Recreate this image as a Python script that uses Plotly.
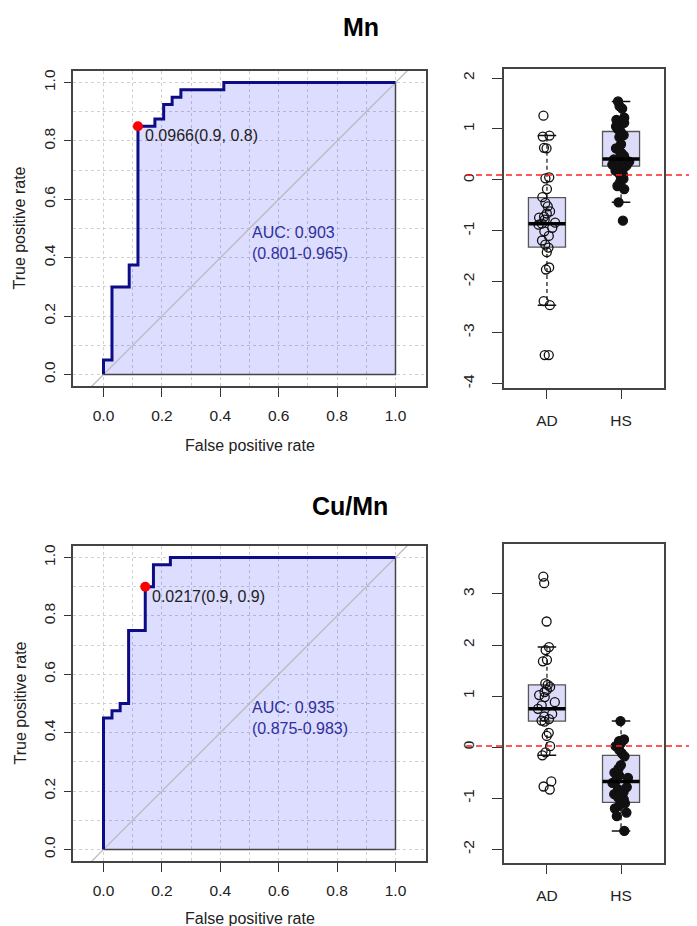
import plotly.graph_objects as go

W, H = 697, 926

# ---------------- data ----------------
titles = ["Mn", "Cu/Mn"]

# ROC curves (false positive rate, true positive rate) corner points
mn_fpr = [0.0, 0.0, 0.029, 0.029, 0.088, 0.088, 0.118, 0.118, 0.176, 0.176, 0.206, 0.206,
          0.235, 0.235, 0.265, 0.265, 0.412, 0.412, 1.0]
mn_tpr = [0.0, 0.05, 0.05, 0.30, 0.30, 0.375, 0.375, 0.85, 0.85, 0.875, 0.875, 0.925,
          0.925, 0.95, 0.95, 0.975, 0.975, 1.0, 1.0]
cu_fpr = [0.0, 0.0, 0.029, 0.029, 0.057, 0.057, 0.086, 0.086, 0.143, 0.143, 0.171, 0.171,
          0.229, 0.229, 1.0]
cu_tpr = [0.0, 0.45, 0.45, 0.475, 0.475, 0.50, 0.50, 0.75, 0.75, 0.90, 0.90, 0.975,
          0.975, 1.0, 1.0]

# best threshold points
mn_thr = {"fpr": 0.118, "tpr": 0.85, "label": "0.0966(0.9, 0.8)", "cut": 0.0966}
cu_thr = {"fpr": 0.143, "tpr": 0.90, "label": "0.0217(0.9, 0.9)", "cut": 0.0217}
mn_auc = ["AUC: 0.903", "(0.801-0.965)"]
cu_auc = ["AUC: 0.935", "(0.875-0.983)"]

groups = ["AD", "HS"]

# individual values
mn_ad = [1.26, 0.87, 0.85, 0.63, 0.62, 0.05, 0.03, -0.18, -0.34, -0.45, -0.52, -0.62, -0.66,
         -0.72, -0.74, -0.78, -0.84, -0.86, -0.88, -0.94, -1.01, -1.10, -1.19, -1.27, -1.33,
         -1.42, -1.72, -1.76, -2.38, -2.46, -3.44, -3.44]
mn_hs = [1.54, 1.45, 1.40, 1.22, 1.18, 1.12, 1.05, 1.00, 0.95, 0.88, 0.84, 0.70, 0.62, 0.58,
         0.52, 0.47, 0.44, 0.41, 0.40, 0.38, 0.36, 0.33, 0.30, 0.28, 0.25, 0.22, 0.18, 0.14,
         0.10, 0.06, 0.02, -0.05, -0.12, -0.18, -0.44, -0.80]
cu_ad = [3.34, 3.21, 2.46, 1.96, 1.90, 1.71, 1.68, 1.25, 1.22, 1.18, 1.12, 1.08, 1.02, 0.98,
         0.88, 0.82, 0.75, 0.65, 0.60, 0.55, 0.52, 0.50, 0.28, 0.22, 0.02, -0.10, -0.16,
         -0.67, -0.77, -0.83]
cu_hs = [0.51, 0.15, 0.12, 0.08, 0.02, -0.05, -0.12, -0.18, -0.35, -0.42, -0.50, -0.55,
         -0.60, -0.65, -0.70, -0.78, -0.82, -0.88, -0.92, -0.98, -1.02, -1.05, -1.10, -1.15,
         -1.20, -1.28, -1.35, -1.64]

# box statistics [AD, HS]
mn_q1 = [-1.32, 0.27]
mn_med = [-0.86, 0.41]
mn_q3 = [-0.35, 0.95]
mn_wlo = [-2.46, -0.44]
mn_whi = [0.87, 1.54]
cu_q1 = [0.51, -1.08]
cu_med = [0.75, -0.67]
cu_q3 = [1.22, -0.16]
cu_wlo = [-0.16, -1.64]
cu_whi = [1.96, 0.51]

roc_ticks = [0.0, 0.2, 0.4, 0.6, 0.8, 1.0]
mn_box_ticks = [-4, -3, -2, -1, 0, 1, 2]
cu_box_ticks = [-2, -1, 0, 1, 2, 3]

# ---------------- style ----------------
FONT = "Liberation Sans, Arial, sans-serif"
TXT = "#222222"
FILL = "rgba(0,0,255,0.135)"
BOXFILL = "#DCDCFA"
NAVY = "#0c0c86"
BOXW = 0.5


def px_x(p):
    return p / W


def px_y(p):
    return 1 - p / H


fig = go.Figure()

panels = [
    dict(fpr=mn_fpr, tpr=mn_tpr, thr=mn_thr, auc=mn_auc, ad=mn_ad, hs=mn_hs,
         q1=mn_q1, med=mn_med, q3=mn_q3, wlo=mn_wlo, whi=mn_whi, bticks=mn_box_ticks,
         roc_y=(61, 377), box_y=(59, 379), brange=[-4.09, 2.18], ax=("x", "y"), bx=("x2", "y2"),
         xtitle_off=59),
    dict(fpr=cu_fpr, tpr=cu_tpr, thr=cu_thr, auc=cu_auc, ad=cu_ad, hs=cu_hs,
         q1=cu_q1, med=cu_med, q3=cu_q3, wlo=cu_wlo, whi=cu_whi, bticks=cu_box_ticks,
         roc_y=(537, 853), box_y=(535, 855), brange=[-2.27, 3.98], ax=("x3", "y3"), bx=("x4", "y4"),
         xtitle_off=57),
]

annotations = []
shapes = []
roc_x = (65, 418)
box_x = (496, 656)

axis_common = dict(showline=True, mirror=True, linecolor="#444444", linewidth=1.5,
                   ticks="outside", tickwidth=1.2, tickcolor="#333333",
                   zeroline=False, tickfont=dict(family=FONT, size=15.5, color=TXT))

grid = dict(showgrid=True, gridcolor="#d0d0d0", griddash="dot", gridwidth=1,
            minor=dict(tickvals=[0.1, 0.3, 0.5, 0.7, 0.9], showgrid=True, gridcolor="#d0d0d0",
                       griddash="dot", ticks=""))

for i, p in enumerate(panels):
    xa, ya = p["ax"]
    bxa, bya = p["bx"]
    # AUC polygon
    fig.add_trace(go.Scatter(x=p["fpr"] + [1.0, 0.0], y=p["tpr"] + [0.0, 0.0],
                             fill="toself", fillcolor=FILL, mode="lines",
                             line=dict(color="#444444", width=1.5),
                             xaxis=xa, yaxis=ya, showlegend=False, hoverinfo="skip"))
    # diagonal reference
    fig.add_trace(go.Scatter(x=[-0.2, 1.2], y=[-0.2, 1.2], mode="lines",
                             line=dict(color="#bbbbbb", width=1.3),
                             xaxis=xa, yaxis=ya, showlegend=False, hoverinfo="skip"))
    # ROC curve
    fig.add_trace(go.Scatter(x=p["fpr"], y=p["tpr"], mode="lines",
                             line=dict(color=NAVY, width=3),
                             xaxis=xa, yaxis=ya, showlegend=False))
    # threshold point
    t = p["thr"]
    fig.add_trace(go.Scatter(x=[t["fpr"]], y=[t["tpr"]], mode="markers",
                             marker=dict(color="#ff0000", size=10),
                             xaxis=xa, yaxis=ya, showlegend=False))
    annotations.append(dict(x=t["fpr"] + 0.017, y=t["tpr"] - 0.033, xref=xa, yref=ya,
                            text=t["label"], showarrow=False, xanchor="left", yanchor="middle",
                            font=dict(family=FONT, size=16, color=TXT)))
    annotations.append(dict(x=0.5, y=0.45, xref=xa, yref=ya,
                            text=p["auc"][0] + "<br>" + p["auc"][1], showarrow=False,
                            xanchor="left", yanchor="middle", align="left",
                            font=dict(family=FONT, size=16, color="#30309a")))

    # ---- box plot ----
    for g, (name, vals) in enumerate(zip(groups, [p["ad"], p["hs"]])):
        pos = g + 1
        # dashed whiskers
        fig.add_trace(go.Scatter(x=[pos, pos, None, pos, pos],
                                 y=[p["q3"][g], p["whi"][g], None, p["q1"][g], p["wlo"][g]],
                                 mode="lines", line=dict(color="#111111", width=1.2, dash="4px,3px"),
                                 xaxis=bxa, yaxis=bya, showlegend=False, hoverinfo="skip"))
        # caps
        fig.add_trace(go.Scatter(x=[pos - BOXW / 4, pos + BOXW / 4, None, pos - BOXW / 4, pos + BOXW / 4],
                                 y=[p["whi"][g], p["whi"][g], None, p["wlo"][g], p["wlo"][g]],
                                 mode="lines", line=dict(color="#111111", width=1.5),
                                 xaxis=bxa, yaxis=bya, showlegend=False, hoverinfo="skip"))
        # box
        fig.add_trace(go.Box(x=[pos], q1=[p["q1"][g]], median=[p["med"][g]], q3=[p["q3"][g]],
                             lowerfence=[p["q1"][g]], upperfence=[p["q3"][g]], width=BOXW,
                             whiskerwidth=0, fillcolor=BOXFILL,
                             line=dict(color="#555555", width=1.3), orientation="v",
                             xaxis=bxa, yaxis=bya, showlegend=False, boxpoints=False))
        # median
        fig.add_trace(go.Scatter(x=[pos - BOXW / 2, pos + BOXW / 2], y=[p["med"][g], p["med"][g]],
                                 mode="lines", line=dict(color="#000000", width=3.5),
                                 xaxis=bxa, yaxis=bya, showlegend=False, hoverinfo="skip"))
        # points with jitter
        fig.add_trace(go.Box(x=[pos] * len(vals), y=vals, boxpoints="all", jitter=0.5, pointpos=0,
                             width=BOXW, fillcolor="rgba(0,0,0,0)", line=dict(width=0),
                             marker=dict(symbol="circle-open" if g == 0 else "circle",
                                         size=9, color="#111111",
                                         line=dict(width=1.3, color="#111111")),
                             xaxis=bxa, yaxis=bya, showlegend=False, orientation="v"))

    # cut-off line
    shapes.append(dict(type="line", xref="paper", x0=px_x(458), x1=1.0, yref=bya,
                       y0=t["cut"], y1=t["cut"], line=dict(color="#ff2020", width=1.5, dash="6px,4px")))

    # axes
    suffix = "" if i == 0 else "3"
    bsuffix = "2" if i == 0 else "4"
    fig.layout["xaxis" + suffix] = dict(
        domain=[px_x(roc_x[0]), px_x(roc_x[1])], range=[-0.1045, 1.1045], anchor=ya,
        tickvals=roc_ticks, ticktext=["%.1f" % v for v in roc_ticks],
        ticklen=9, ticklabelstandoff=5, **grid, **axis_common)
    fig.layout["yaxis" + suffix] = dict(
        domain=[px_y(p["roc_y"][1]), px_y(p["roc_y"][0])], range=[-0.04, 1.04], anchor=xa,
        tickvals=roc_ticks, ticktext=["%.1f" % v for v in roc_ticks], tickangle=-90,
        ticklen=7, ticklabelstandoff=3, **grid, **axis_common)
    fig.layout["xaxis" + bsuffix] = dict(
        domain=[px_x(box_x[0]), px_x(box_x[1])], range=[0.42, 2.58], anchor=bya,
        tickvals=[1, 2], ticktext=groups, showgrid=False, ticklen=9, ticklabelstandoff=8,
        **axis_common)
    fig.layout["yaxis" + bsuffix] = dict(
        domain=[px_y(p["box_y"][1]), px_y(p["box_y"][0])], range=p["brange"], anchor=bxa,
        tickvals=p["bticks"], ticktext=[str(v) for v in p["bticks"]], tickangle=-90,
        showgrid=False, ticklen=10, ticklabelstandoff=12, **axis_common)

    # axis titles
    annotations.append(dict(x=px_x(12), y=px_y((p["roc_y"][0] + p["roc_y"][1]) / 2),
                            xref="paper", yref="paper", text="True positive rate", textangle=-90,
                            xanchor="center", yanchor="middle",
                            showarrow=False, font=dict(family=FONT, size=16, color=TXT)))
    annotations.append(dict(x=px_x((roc_x[0] + roc_x[1]) / 2), y=px_y(p["roc_y"][1] + p["xtitle_off"]),
                            xref="paper", yref="paper", text="False positive rate",
                            xanchor="center", yanchor="middle",
                            showarrow=False, font=dict(family=FONT, size=16, color=TXT)))

# panel titles
annotations.append(dict(x=px_x(353), y=px_y(17), xref="paper", yref="paper",
                        text="<b>%s</b>" % titles[0], xanchor="center", yanchor="middle",
                        showarrow=False, font=dict(family=FONT, size=25, color="#000000")))
annotations.append(dict(x=px_x(342), y=px_y(497), xref="paper", yref="paper",
                        text="<b>%s</b>" % titles[1], xanchor="center", yanchor="middle",
                        showarrow=False, font=dict(family=FONT, size=25, color="#000000")))

fig.update_layout(width=W, height=H, margin=dict(l=0, r=0, t=0, b=0),
                  paper_bgcolor="white", plot_bgcolor="white",
                  annotations=annotations, shapes=shapes, showlegend=False)

fig.write_html("out.html")
